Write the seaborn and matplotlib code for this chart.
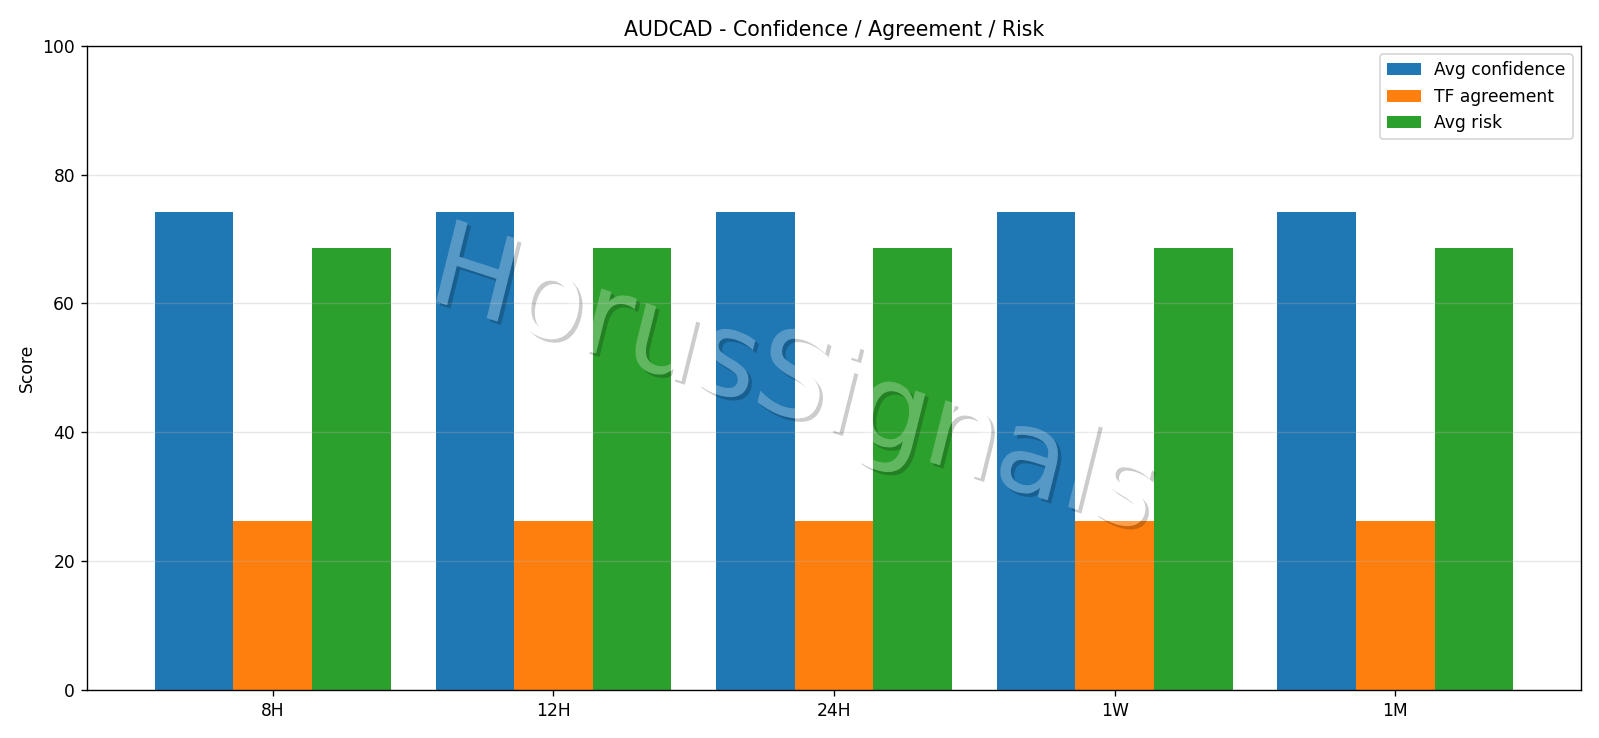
import matplotlib
matplotlib.use("Agg")
import numpy as np
import matplotlib.pyplot as plt
import matplotlib.patheffects as pe
from matplotlib.path import Path
from matplotlib.transforms import Affine2D, IdentityTransform, TransformedPath
import seaborn as sns
import pandas as pd

# ---- data ----
timeframes = ["8H", "12H", "24H", "1W", "1M"]
avg_confidence = [74.2, 74.2, 74.2, 74.2, 74.2]
tf_agreement = [26.3, 26.3, 26.3, 26.3, 26.3]
avg_risk = [68.6, 68.6, 68.6, 68.6, 68.6]
series_labels = ["Avg confidence", "TF agreement", "Avg risk"]
series_colors = ["#1f77b4", "#ff7f0e", "#2ca02c"]
watermark_text = "HorusSignals"

rows = []
for lab, vals in zip(series_labels, [avg_confidence, tf_agreement, avg_risk]):
    for tf, v in zip(timeframes, vals):
        rows.append({"tf": tf, "score": v, "metric": lab})
df = pd.DataFrame(rows)


def _signed_area(poly):
    x, y = poly[:, 0], poly[:, 1]
    return 0.5 * np.sum(x * np.roll(y, -1) - np.roll(x, -1) * y)


class KnockoutShadowText(pe.AbstractPathEffect):
    """Shadow that is hidden under the glyphs, plus the (slightly skewed) glyphs."""

    def __init__(self, skew=-4, shadow_offset=(2, -2), shadow_color=(0, 0, 0),
                 shadow_alpha=0.2):
        super().__init__(offset=(0, 0))
        self._skew = skew
        self._soff = shadow_offset
        self._scol = shadow_color
        self._salpha = shadow_alpha

    def draw_path(self, renderer, gc, tpath, affine, rgbFace=None):
        local = Affine2D().skew_deg(self._skew, 0) + affine
        glyph = local.transform_path(tpath)
        polys = glyph.to_polygons(closed_only=True)
        w, h = renderer.get_canvas_width_height()
        rect = np.array([[-10, -10], [w + 10, -10], [w + 10, h + 10],
                         [-10, h + 10], [-10, -10]], float)
        if polys:
            big = max(polys, key=lambda p: abs(_signed_area(p)))
            if _signed_area(big) > 0:
                rect = rect[::-1]
        clip = Path.make_compound_path(Path(rect, closed=True), glyph)
        ox = renderer.points_to_pixels(self._soff[0])
        oy = renderer.points_to_pixels(self._soff[1])
        gc0 = renderer.new_gc()
        gc0.copy_properties(gc)
        gc0.set_clip_path(TransformedPath(clip, IdentityTransform()))
        gc0.set_linewidth(0)
        gc0.set_foreground(self._scol)
        gc0.set_alpha(self._salpha)
        renderer.draw_path(gc0, glyph, Affine2D().translate(ox, oy),
                           self._scol)
        gc0.restore()
        renderer.draw_path(gc, tpath, local, rgbFace)


fig = plt.figure(figsize=(13, 6), dpi=123)
ax = fig.add_axes([0.0544, 0.065, 0.9344, 0.873])

sns.barplot(data=df, x="tf", y="score", hue="metric", order=timeframes,
            hue_order=series_labels, palette=series_colors, width=0.84,
            saturation=1, errorbar=None, linewidth=0, ax=ax)

ax.set_xlim(-0.662, 4.662)
ax.set_ylim(0, 100)
ax.set_xlabel("")
ax.set_ylabel("Score", fontsize=10)
ax.set_title("AUDCAD - Confidence / Agreement / Risk", fontsize=12)
ax.grid(axis="y", alpha=0.3)
ax.set_axisbelow("line")
ax.tick_params(labelsize=10)

handles, labels = ax.get_legend_handles_labels()
ax.legend(handles, labels, loc="upper right", fontsize=10)

ax.text(0.474, 0.474, watermark_text, transform=ax.transAxes, ha="center",
        va="center", rotation=-18, fontsize=68, color="white", alpha=0.25,
        path_effects=[KnockoutShadowText()], zorder=10)

fig.savefig("out.png", dpi=123)
